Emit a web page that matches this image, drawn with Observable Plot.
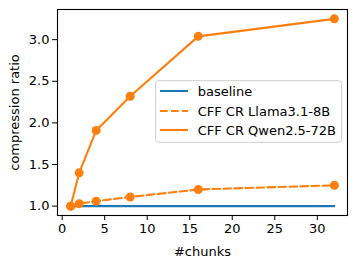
<!DOCTYPE html>
<html>
<head>
<meta charset="utf-8">
<script src="https://cdn.jsdelivr.net/npm/d3@7"></script>
<script src="https://cdn.jsdelivr.net/npm/@observablehq/plot@0.6"></script>
<style>
  html, body { margin: 0; padding: 0; background: #fff; }
  #chart { position: relative; width: 357px; height: 264px; }
  svg { font-family: "DejaVu Sans", sans-serif; }
</style>
</head>
<body>
<div id="chart"></div>
<script>
const chunks = [1, 2, 4, 8, 16, 32];
const baseline = [1.0, 1.0, 1.0, 1.0, 1.0, 1.0];
const llama = [1.0, 1.03, 1.06, 1.11, 1.20, 1.25];
const qwen = [1.0, 1.40, 1.91, 2.32, 3.04, 3.25];
const xTicks = [0, 5, 10, 15, 20, 25, 30];
const yTicks = [1.0, 1.5, 2.0, 2.5, 3.0];
const seriesNames = ["baseline", "CFF CR Llama3.1-8B", "CFF CR Qwen2.5-72B"];

const blue = "#1f77b4", orange = "#ff7f0e";
const rows = (vals) => chunks.map((c, i) => ({x: c, y: vals[i]}));
const dBase = rows(baseline), dLlama = rows(llama), dQwen = rows(qwen);

const plot = Plot.plot({
  width: 357,
  height: 264,
  marginLeft: 57,
  marginRight: 10,
  marginTop: 9,
  marginBottom: 49,
  style: {fontFamily: "DejaVu Sans, sans-serif", fontSize: "13px", color: "black", background: "white"},
  x: {domain: [-0.55, 33.55]},
  y: {domain: [0.8875, 3.3625]},
  marks: [
    Plot.line(dBase, {x: "x", y: "y", stroke: blue, strokeWidth: 2.1}),
    Plot.line(dLlama, {x: "x", y: "y", stroke: orange, strokeWidth: 2.1, strokeDasharray: "7.7,3.3"}),
    Plot.dot(dLlama, {x: "x", y: "y", r: 4.5, fill: orange, stroke: null}),
    Plot.line(dQwen, {x: "x", y: "y", stroke: orange, strokeWidth: 2.1}),
    Plot.dot(dQwen, {x: "x", y: "y", r: 4.5, fill: orange, stroke: null}),
    Plot.frame({stroke: "black", strokeWidth: 1.1}),
    Plot.axisX({ticks: xTicks, tickSize: 5, tickPadding: 3, fontSize: 13, label: "#chunks", labelAnchor: "center", labelArrow: "none", labelOffset: 40}),
    Plot.axisY({ticks: yTicks, tickFormat: d3.format(".1f"), tickSize: 5, tickPadding: 3, fontSize: 13, label: "compression ratio", labelAnchor: "center", labelArrow: "none", labelOffset: 48})
  ]
});
document.getElementById("chart").appendChild(plot);

// legend
const svg = d3.select(plot);
const lg = svg.append("g").attr("class", "legend").attr("text-anchor", "start");
lg.append("rect").attr("x", 155.7).attr("y", 80.7).attr("width", 186).attr("height", 61.6)
  .attr("rx", 3).attr("fill", "white").attr("fill-opacity", 0.8).attr("stroke", "#cccccc").attr("stroke-width", 1);
const styles = [
  {stroke: blue, dash: null},
  {stroke: orange, dash: "7.7,3.3"},
  {stroke: orange, dash: null}
];
const rowY = [91, 111, 130];
seriesNames.forEach((name, i) => {
  const l = lg.append("line").attr("x1", 160).attr("x2", 188).attr("y1", rowY[i]).attr("y2", rowY[i])
    .attr("stroke", styles[i].stroke).attr("stroke-width", 2.1);
  if (styles[i].dash) l.attr("stroke-dasharray", styles[i].dash);
  lg.append("text").attr("x", 197.7).attr("y", rowY[i]).attr("dy", "0.35em")
    .attr("text-anchor", "start").attr("font-size", 13).attr("fill", "black").text(name);
});
</script>
</body>
</html>
